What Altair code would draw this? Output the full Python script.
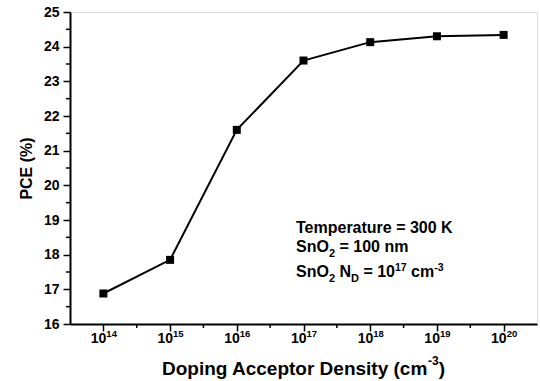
import altair as alt
import pandas as pd

# ---- data ----
density = [1e14, 1e15, 1e16, 1e17, 1e18, 1e19, 1e20]
pce = [16.88, 17.85, 21.60, 23.60, 24.13, 24.30, 24.34]
x_tick_exponents = [14, 15, 16, 17, 18, 19, 20]
x_minor_exponents = [14.5, 15.5, 16.5, 17.5, 18.5, 19.5]
y_ticks = [16, 17, 18, 19, 20, 21, 22, 23, 24, 25]
y_minor = [16.5, 17.5, 18.5, 19.5, 20.5, 21.5, 22.5, 23.5, 24.5]
y_title = "PCE (%)"
x_title_main = "Doping Acceptor Density (cm"
x_title_sup = "-3"
ann_line1 = "Temperature = 300 K"

W, H = 467, 312
FONT = "Liberation Sans"
ARIAL_BOLD = {'S': 667, 'n': 611, 'O': 778, 'N': 722, 'D': 722, ' ': 278, '=': 584,
              'c': 556, 'm': 889, '-': 333, 'T': 611, 'e': 556, 'p': 611, 'r': 389,
              'a': 556, 't': 333, 'u': 611, 'K': 722, 'o': 611, 'i': 278, 'g': 611,
              'A': 722, 's': 556, 'y': 556, '(': 333, ')': 333}


def text_width(s, size):
    return sum(ARIAL_BOLD.get(c, 556) for c in s) * size / 1000.0


def rich(pieces, x0, y, center=False):
    total = sum(text_width(t, s) for t, s, dy in pieces)
    x = x0 - total / 2 if center else x0
    out = []
    for t, s, dy in pieces:
        stripped = t.lstrip(" ")
        lead = text_width(t[: len(t) - len(stripped)], s)
        out.append(
            alt.Chart(pd.DataFrame({"t": [stripped]}))
            .mark_text(align="left", baseline="alphabetic", font=FONT, fontWeight="bold",
                       fontSize=s, dy=dy, color="black")
            .encode(x=alt.value(x + lead), y=alt.value(y), text="t:N")
        )
        x += text_width(t, s)
    return out


xscale = alt.Scale(type="log", domain=[10 ** 13.5, 10 ** 20.5], nice=False)
yscale = alt.Scale(domain=[16, 25], nice=False, zero=False)

df = pd.DataFrame({"density": density, "pce": pce})

xaxis = alt.Axis(values=density, labels=False, title=None, tickSize=7, tickWidth=1.5,
                 tickColor="black", domainColor="black", domainWidth=2, grid=False)
yaxis = alt.Axis(values=y_ticks, title=y_title, tickSize=7, tickWidth=1.5, tickColor="black",
                 domainColor="black", domainWidth=2, grid=False, labelFont=FONT,
                 labelFontWeight="bold", labelFontSize=14, labelColor="black", labelPadding=4,
                 titleFont=FONT, titleFontWeight="bold", titleFontSize=16, titleColor="black",
                 titlePadding=9)

base = alt.Chart(df).encode(
    x=alt.X("density:Q", scale=xscale, axis=xaxis),
    y=alt.Y("pce:Q", scale=yscale, axis=yaxis),
)
line = base.mark_line(color="black", strokeWidth=2)
pts = base.mark_square(color="black", size=64, opacity=1)

xminor = alt.Chart(pd.DataFrame({"density": [10 ** e for e in x_minor_exponents]})).mark_rule(
    color="black", strokeWidth=1.5).encode(
    x=alt.X("density:Q", scale=xscale, axis=xaxis), y=alt.value(H), y2=alt.value(H + 4))
yminor = alt.Chart(pd.DataFrame({"pce": y_minor})).mark_rule(
    color="black", strokeWidth=1.5).encode(
    y=alt.Y("pce:Q", scale=yscale, axis=yaxis), x=alt.value(0), x2=alt.value(-4))

tick_df = pd.DataFrame({"density": [10.0 ** e for e in x_tick_exponents],
                        "base": ["10"] * len(x_tick_exponents),
                        "exp": [str(e) for e in x_tick_exponents]})
tl_base = alt.Chart(tick_df).mark_text(align="right", baseline="alphabetic", font=FONT,
                                       fontWeight="bold", fontSize=14, dx=3, color="black").encode(
    x=alt.X("density:Q", scale=xscale, axis=xaxis), y=alt.value(H + 19), text="base:N")
tl_exp = alt.Chart(tick_df).mark_text(align="left", baseline="alphabetic", font=FONT,
                                      fontWeight="bold", fontSize=9.5, dx=3, color="black").encode(
    x=alt.X("density:Q", scale=xscale, axis=xaxis), y=alt.value(H + 13), text="exp:N")

xtitle = rich([(x_title_main, 19, 0), (x_title_sup, 12, -10), (")", 19, 0)], W / 2, H + 51, center=True)

ann = []
ann += rich([(ann_line1, 16, 0)], 226, 221)
ann += rich([("SnO", 16, 0), ("2", 11, 5), (" = 100 nm", 16, 0)], 226, 240)
ann += rich([("SnO", 16, 0), ("2", 11, 5), (" N", 16, 0), ("D", 11, 5), (" = 10", 16, 0),
             ("17", 10.5, -6), (" cm", 16, 0), ("-3", 10.5, -6)], 226, 265)

chart = alt.layer(line, pts, xminor, yminor, tl_base, tl_exp, *xtitle, *ann).properties(
    width=W, height=H,
    autosize=alt.AutoSizeParams(type="none"),
    padding={"left": 70, "top": 12, "right": 3, "bottom": 57},
).configure_view(stroke="black", strokeWidth=2).configure(font=FONT, background="white")

chart.save("out.html", embed_options={"renderer": "svg", "actions": False})
